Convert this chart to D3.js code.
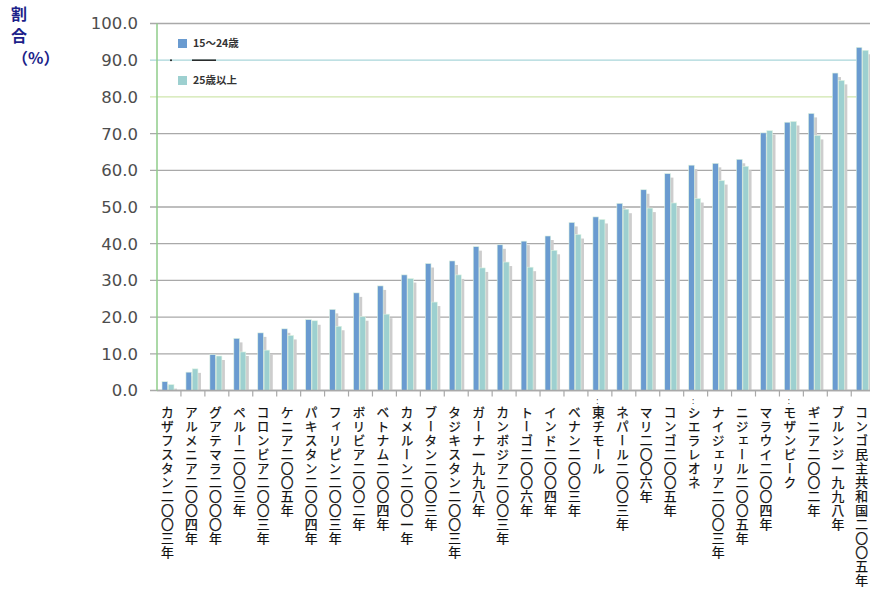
<!DOCTYPE html>
<html>
<head>
<meta charset="utf-8">
<script src="https://cdn.jsdelivr.net/npm/d3@7"></script>
<style>
  body { margin: 0; background: #fff; }
  svg { display: block; }
</style>
</head>
<body>
<div id="chart"></div>
<script>
// Youth (15-24) vs adult (25+) share, by country / survey year

const categories = [
    "カザフスタン二〇〇三年", "アルメニア二〇〇四年", "グアテマラ二〇〇〇年", "ペルー二〇〇三年",
    "コロンビア二〇〇三年", "ケニア二〇〇五年", "パキスタン二〇〇四年", "フィリピン二〇〇三年",
    "ボリビア二〇〇二年", "ベトナム二〇〇四年", "カメルーン二〇〇一年", "ブータン二〇〇三年",
    "タジキスタン二〇〇三年", "ガーナ一九九八年", "カンボジア二〇〇三年", "トーゴ二〇〇六年",
    "インド二〇〇四年", "ベナン二〇〇三年", "：東チモール", "ネパール二〇〇三年",
    "マリ二〇〇六年", "コンゴ二〇〇五年", "：シエラレオネ", "ナイジェリア二〇〇三年",
    "ニジェール二〇〇五年", "マラウイ二〇〇四年", "：モザンビーク", "ギニア二〇〇二年",
    "ブルンジ一九九八年", "コンゴ民主共和国二〇〇五年"
];

const seriesNames = ["15～24歳", "25歳以上"];

const youth = [
    2.4, 5.0, 9.8, 14.2, 15.7, 16.8, 19.3, 22.1, 26.6, 28.5,
    31.5, 34.6, 35.3, 39.2, 39.7, 40.7, 42.1, 45.8, 47.3, 51.0,
    54.7, 59.1, 61.4, 61.9, 63.0, 70.2, 73.1, 75.5, 86.5, 93.5
];

const adult = [
    1.6, 5.9, 9.4, 10.5, 11.0, 15.0, 19.0, 17.5, 20.1, 20.8,
    30.5, 24.1, 31.5, 33.4, 35.0, 33.6, 38.2, 42.5, 46.6, 49.4,
    49.7, 51.1, 52.3, 57.2, 61.1, 70.8, 73.3, 69.5, 84.5, 92.7
];

const yTicks = [0, 10, 20, 30, 40, 50, 60, 70, 80, 90, 100];

const width = 870;
const height = 598;

const svg = d3.select("#chart")
    .append("svg")
    .attr("width", width)
    .attr("height", height);

const colors = { "15～24歳": "#6a9bd0", "25歳以上": "#9dd0d0" };

// Scales
const y = d3.scaleLinear().domain([0, 100]).range([390.5, 23.5]);
const x0 = d3.scaleBand().domain(categories).range([157, 157 + 30 * 23.94]);
const x1 = d3.scaleBand().domain(seriesNames).range([5, 17]).paddingInner(0.1);

// Gridlines (the 90 and 80 lines are tinted in the original)
const gridColor = v => v === 90 ? "#a9d6da" : v === 80 ? "#cfe6ad" : "#a9a9a9";

svg.append("g")
    .selectAll("line")
    .data(yTicks)
    .join("line")
    .attr("x1", 150)
    .attr("x2", width)
    .attr("y1", d => y(d))
    .attr("y2", d => y(d))
    .attr("stroke", d => gridColor(d))
    .attr("stroke-width", 1.3);

// Y tick labels
svg.append("g")
    .selectAll("text")
    .data(yTicks)
    .join("text")
    .attr("x", 138)
    .attr("y", d => y(d))
    .attr("dy", "0.36em")
    .attr("text-anchor", "end")
    .attr("font-family", "DejaVu Sans, Verdana, sans-serif")
    .attr("font-size", 16.5)
    .attr("fill", "#4d4d4d")
    .text(d3.format(".1f"));

// X tick marks at band boundaries
svg.append("g")
    .selectAll("line")
    .data(categories)
    .join("line")
    .attr("x1", d => x0(d) + x0.bandwidth())
    .attr("x2", d => x0(d) + x0.bandwidth())
    .attr("y1", y(0))
    .attr("y2", y(0) + 6)
    .attr("stroke", "#a9a9a9")
    .attr("stroke-width", 1.2);

// Bars with soft shadow
const rows = categories.map((c, i) => ({ cat: c, values: [
    { key: seriesNames[0], value: youth[i] },
    { key: seriesNames[1], value: adult[i] }
] }));

const groups = svg.append("g")
    .selectAll("g")
    .data(rows)
    .join("g")
    .attr("transform", d => `translate(${x0(d.cat)},0)`);

groups.selectAll("rect.shadow")
    .data(d => d.values)
    .join("rect")
    .attr("class", "shadow")
    .attr("x", d => x1(d.key) + 3)
    .attr("y", d => y(d.value) + 4)
    .attr("width", x1.bandwidth())
    .attr("height", d => Math.max(0, y(0) - y(d.value) - 4))
    .attr("fill", "#cdcdcd");

groups.selectAll("rect.bar")
    .data(d => d.values)
    .join("rect")
    .attr("class", "bar")
    .attr("x", d => x1(d.key))
    .attr("y", d => y(d.value))
    .attr("width", x1.bandwidth())
    .attr("height", d => y(0) - y(d.value))
    .attr("fill", d => colors[d.key])
    .attr("stroke", "#dff3e2")
    .attr("stroke-width", 0.6);

// Axis lines
svg.append("line")
    .attr("x1", 157).attr("x2", width)
    .attr("y1", y(0)).attr("y2", y(0))
    .attr("stroke", "#a9a9a9").attr("stroke-width", 1.3);

svg.append("line")
    .attr("x1", 157).attr("x2", 157)
    .attr("y1", y(100)).attr("y2", y(0))
    .attr("stroke", "#8fcc8a").attr("stroke-width", 1.5);

// Category labels, vertical
const labels = svg.append("g")
    .selectAll("g")
    .data(categories)
    .join("g")
    .attr("transform", d => `translate(${x0(d) + x0.bandwidth() / 2 - 1.5},0)`);

labels.append("text")
    .attr("x", 0)
    .attr("y", 406)
    .style("writing-mode", "vertical-rl")
    .style("text-orientation", "mixed")
    .attr("font-family", "Noto Sans CJK JP, sans-serif")
    .attr("font-size", 12.8)
    .attr("letter-spacing", 1.2)
    .attr("fill", "#111")
    .attr("stroke", "#111")
    .attr("stroke-width", 0.25)
    .text(d => d.replace(/^：/, ""));

labels.filter(d => d.startsWith("："))
    .append("text")
    .attr("x", -1)
    .attr("y", 404)
    .attr("text-anchor", "middle")
    .attr("font-family", "DejaVu Sans, sans-serif")
    .attr("font-size", 8)
    .attr("fill", "#333")
    .text(":");

// Y title, stacked
const title = svg.append("g")
    .attr("font-family", "Noto Sans CJK JP, sans-serif")
    .attr("font-weight", "bold")
    .attr("font-size", 16)
    .attr("fill", "#1c1f8a");
title.append("text").attr("x", 11).attr("y", 20).text("割");
title.append("text").attr("x", 11).attr("y", 42).text("合");
title.append("text").attr("x", 12).attr("y", 64).text("（%）");

// Legend
const legend = svg.append("g")
    .selectAll("g")
    .data(seriesNames)
    .join("g")
    .attr("transform", (d, i) => `translate(178,${39 + i * 37})`);

legend.append("rect")
    .attr("width", 9)
    .attr("height", 9)
    .attr("fill", d => colors[d]);

legend.append("text")
    .attr("x", 15)
    .attr("y", 8)
    .attr("font-family", "Noto Sans CJK JP, sans-serif")
    .attr("font-size", 10.5)
    .attr("font-weight", "bold")
    .attr("fill", "#333")
    .text(d => d);

// small dark marks left over beside the legend in the original
svg.append("circle").attr("cx", 171).attr("cy", y(90)).attr("r", 1).attr("fill", "#222");
svg.append("line")
    .attr("x1", 192).attr("x2", 216)
    .attr("y1", y(90)).attr("y2", y(90))
    .attr("stroke", "#222").attr("stroke-width", 1.5);
</script>
</body>
</html>
